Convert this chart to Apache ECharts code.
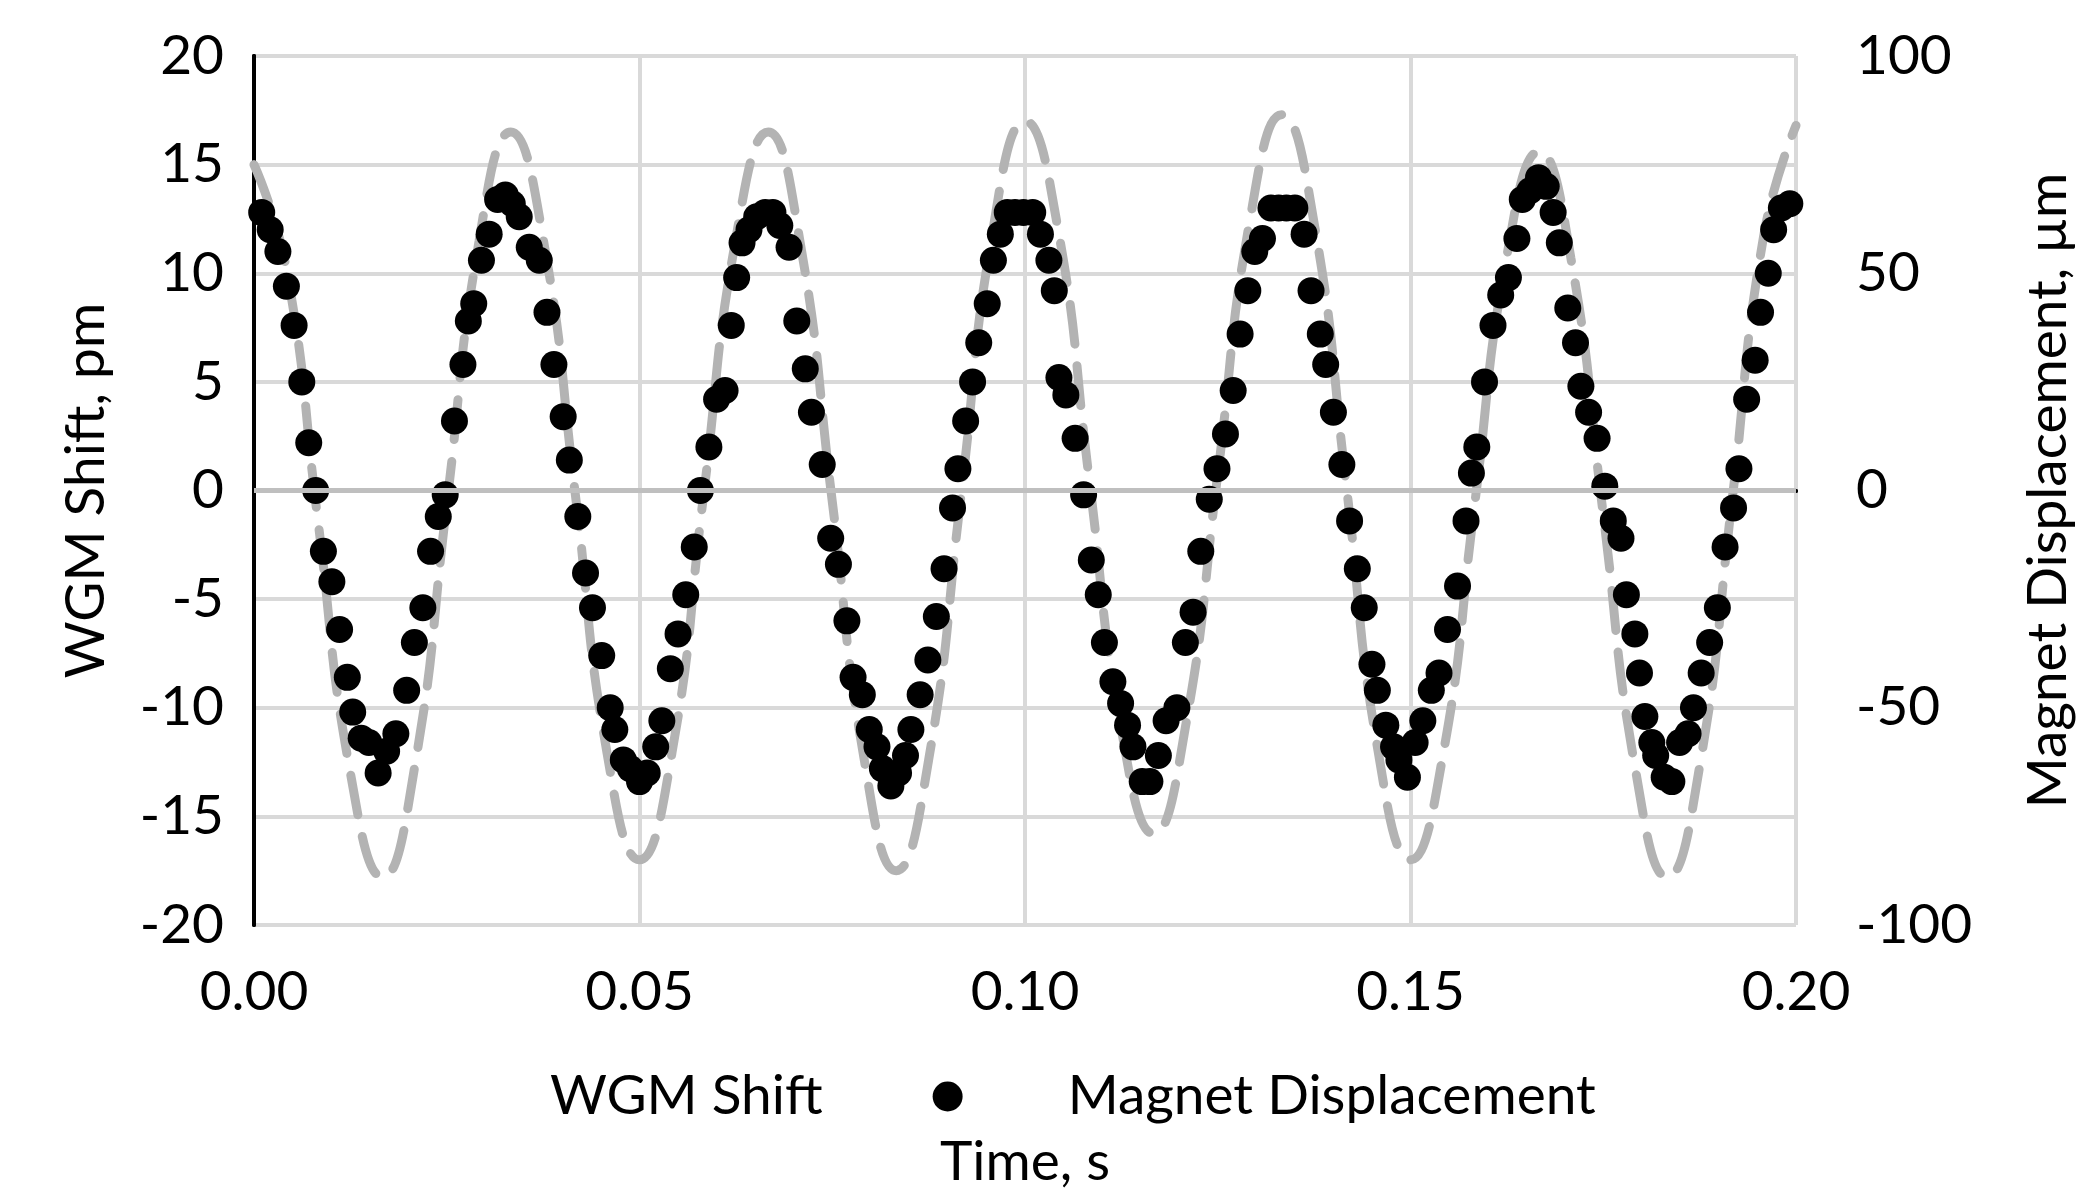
<!DOCTYPE html>
<html>
<head>
<meta charset="utf-8">
<script src="https://cdn.jsdelivr.net/npm/echarts@6/dist/echarts.min.js"></script>
<style>html,body{margin:0;padding:0;background:#fff}#chart{width:2097px;height:1199px}</style>
</head>
<body>
<div id="chart"></div>
<script>
// WGM shift, pm (left axis)
var wgm_time = [0.0000,0.0042,0.0083,0.0125,0.0167,0.0208,0.0250,0.0292,0.0333,0.0375,0.0417,0.0458,0.0500,0.0542,0.0583,0.0625,0.0667,0.0708,0.0750,0.0792,0.0833,0.0875,0.0917,0.0958,0.1000,0.1042,0.1083,0.1125,0.1167,0.1208,0.1250,0.1292,0.1333,0.1375,0.1417,0.1458,0.1500,0.1542,0.1583,0.1625,0.1667,0.1708,0.1750,0.1792,0.1833,0.1875,0.1917,0.1958,0.2000]
var wgm_shift = [15,10.2,-1.4,-13,-17.8,-12.8,-0.65,11.5,16.5,11.6,-0.25,-12.1,-17,-12.1,-0.25,11.6,16.5,11.5,-0.5,-12.5,-17.5,-12.4,-0.25,11.9,17,12.2,0.6,-11,-15.8,-10.9,0.75,12.5,17.3,12.3,0.15,-12,-17,-12.2,-0.7,10.8,15.6,10.7,-1.1,-12.9,-17.8,-12.7,-0.5,11.7,16.8]

// Magnet displacement, µm (right axis)
var mag_time = [0.0010,0.0021,0.0031,0.0042,0.0052,0.0062,0.0071,0.0080,0.0090,0.0101,0.0111,0.0121,0.0128,0.0139,0.0149,0.0161,0.0172,0.0184,0.0198,0.0208,0.0219,0.0229,0.0239,0.0248,0.0260,0.0271,0.0278,0.0285,0.0295,0.0305,0.0316,0.0326,0.0335,0.0344,0.0357,0.0370,0.0380,0.0389,0.0401,0.0409,0.0420,0.0430,0.0439,0.0451,0.0462,0.0468,0.0479,0.0488,0.0500,0.0510,0.0521,0.0529,0.0540,0.0550,0.0560,0.0571,0.0579,0.0590,0.0600,0.0611,0.0619,0.0626,0.0633,0.0642,0.0652,0.0663,0.0673,0.0682,0.0694,0.0704,0.0715,0.0723,0.0737,0.0748,0.0758,0.0769,0.0777,0.0789,0.0798,0.0808,0.0815,0.0826,0.0836,0.0845,0.0852,0.0864,0.0874,0.0885,0.0895,0.0906,0.0913,0.0923,0.0932,0.0940,0.0951,0.0959,0.0968,0.0977,0.0987,0.0998,0.1010,0.1020,0.1031,0.1038,0.1044,0.1053,0.1065,0.1076,0.1086,0.1095,0.1103,0.1114,0.1124,0.1133,0.1140,0.1152,0.1162,0.1173,0.1183,0.1197,0.1208,0.1218,0.1228,0.1239,0.1249,0.1260,0.1270,0.1279,0.1289,0.1298,0.1308,0.1319,0.1329,0.1339,0.1350,0.1362,0.1371,0.1383,0.1390,0.1400,0.1411,0.1421,0.1431,0.1440,0.1450,0.1457,0.1468,0.1478,0.1485,0.1496,0.1506,0.1516,0.1527,0.1537,0.1548,0.1561,0.1572,0.1579,0.1586,0.1596,0.1607,0.1617,0.1627,0.1638,0.1645,0.1655,0.1666,0.1676,0.1685,0.1693,0.1704,0.1714,0.1721,0.1731,0.1742,0.1752,0.1763,0.1773,0.1780,0.1791,0.1797,0.1804,0.1813,0.1818,0.1829,0.1839,0.1849,0.1860,0.1867,0.1877,0.1888,0.1898,0.1908,0.1919,0.1926,0.1936,0.1947,0.1954,0.1964,0.1971,0.1981,0.1992]
var mag_disp = [64,60,55,47,38,25,11,0,-14,-21,-32,-43,-51,-57,-58,-65,-60,-56,-46,-35,-27,-14,-6,-1,16,29,39,43,53,59,67,68,66,63,56,53,41,29,17,7,-6,-19,-27,-38,-50,-55,-62,-64,-67,-65,-59,-53,-41,-33,-24,-13,0,10,21,23,38,49,57,60,63,64,64,61,56,39,28,18,6,-11,-17,-30,-43,-47,-55,-59,-64,-68,-65,-61,-55,-47,-39,-29,-18,-4,5,16,25,34,43,53,59,64,64,64,64,59,53,46,26,22,12,-1,-16,-24,-35,-44,-49,-54,-59,-67,-67,-61,-53,-50,-35,-28,-14,-2,5,13,23,36,46,55,58,65,65,65,65,59,46,36,29,18,6,-7,-18,-27,-40,-46,-54,-59,-62,-66,-58,-53,-46,-42,-32,-22,-7,4,10,25,38,45,49,58,67,69,72,70,64,57,42,34,24,18,12,1,-7,-11,-24,-33,-42,-52,-58,-61,-66,-67,-58,-56,-50,-42,-35,-27,-13,-4,5,21,30,41,50,60,65,66]

var font = 'Lato, "Open Sans", sans-serif'
var frame = { show: true, lineStyle: { color: '#000', width: 4 } }
var chart = echarts.init(document.getElementById('chart'))
chart.setOption({
    animation: false,
    grid: { left: 254, right: 301, top: 56, bottom: 274 },
    legend: {
        bottom: 70, left: 310, itemGap: 110, itemWidth: 230, itemHeight: 30,
        textStyle: { fontFamily: font, fontSize: 55, color: '#000' },
        data: [
            { name: 'WGM Shift', icon: 'none', itemStyle: { opacity: 0 },
              lineStyle: { color: '#b3b3b3', width: 10, type: [40, 22], cap: 'round' } },
            { name: 'Magnet Displacement' }
        ]
    },
    xAxis: [{
        type: 'value', min: 0, max: 0.2, interval: 0.05,
        name: 'Time, s', nameLocation: 'middle', nameGap: 210,
        nameTextStyle: { fontFamily: font, fontSize: 55, color: '#000' },
        axisLabel: { fontFamily: font, fontSize: 55, color: '#000', margin: 40,
            formatter: function (v) { return v.toFixed(2) } },
        axisLine: frame, axisTick: { show: false },
        splitLine: { lineStyle: { color: '#d9d9d9', width: 4 } }
    }, {
        type: 'value', position: 'top', min: 0, max: 0.2,
        axisLine: frame, axisTick: { show: false }, axisLabel: { show: false }, splitLine: { show: false }
    }],
    yAxis: [{
        type: 'value', min: -20, max: 20, interval: 5,
        name: 'WGM Shift, pm', nameLocation: 'middle', nameGap: 140,
        nameTextStyle: { fontFamily: font, fontSize: 55, color: '#000' },
        axisLabel: { fontFamily: font, fontSize: 55, color: '#000', margin: 30 },
        axisLine: frame, axisTick: { show: false },
        splitLine: { lineStyle: { color: '#d9d9d9', width: 4 } }
    }, {
        type: 'value', min: -100, max: 100, interval: 50,
        name: 'Magnet Displacement, µm', nameLocation: 'middle', nameGap: 225, nameRotate: 90,
        nameTextStyle: { fontFamily: font, fontSize: 55, color: '#000' },
        axisLabel: { fontFamily: font, fontSize: 55, color: '#000', margin: 60 },
        axisLine: frame, axisTick: { show: false },
        splitLine: { show: false }
    }],
    series: [{
        name: 'WGM Shift', type: 'line', yAxisIndex: 0, smooth: 0.5,
        symbol: 'none', z: 2,
        data: wgm_time.map(function (t, i) { return [t, wgm_shift[i]] }),
        lineStyle: { color: '#b3b3b3', width: 9, type: [40, 22], cap: 'round' },
        itemStyle: { color: '#b3b3b3' },
        markLine: {
            silent: true, symbol: 'none', label: { show: false },
            lineStyle: { color: '#bfbfbf', width: 5, type: 'solid' },
            data: [{ yAxis: 0 }]
        }
    }, {
        name: 'Magnet Displacement', type: 'scatter', yAxisIndex: 1, z: 3,
        symbol: 'circle', symbolSize: 27,
        data: mag_time.map(function (t, i) { return [t, mag_disp[i]] }),
        itemStyle: { color: '#000', opacity: 1 }
    }]
})
</script>
</body>
</html>
